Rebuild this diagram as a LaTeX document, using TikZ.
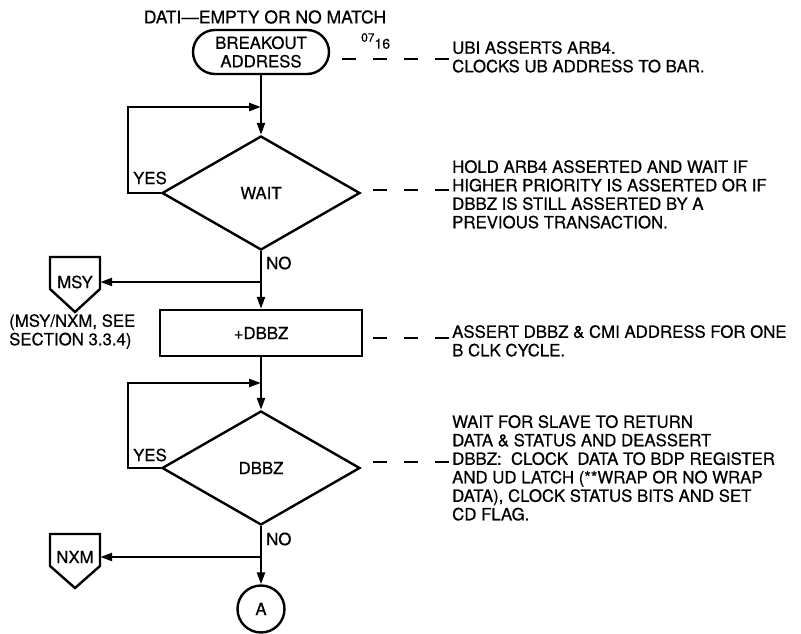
\documentclass[tikz,border=0pt]{standalone}
\usepackage{fontspec}
\setmainfont{TeX Gyre Heros}[FakeBold=0.6]
\usetikzlibrary{shapes.geometric,arrows.meta,calc}
\begin{document}
\begin{tikzpicture}[x=1pt,y=-1pt,
  every node/.style={font=\fontsize{16.8}{18.5}\selectfont, inner sep=0pt},
  ln/.style={line width=2.4pt},
  arr/.style={ln,-{Triangle[length=12pt,width=8pt]}},
  dsh/.style={line width=2.2pt,dash pattern=on 14pt off 17pt},
  term/.style={draw,ln,rounded corners=22pt,minimum width=136pt,minimum height=44pt,align=center},
  dec/.style={draw,ln,diamond,minimum width=198pt,minimum height=114pt},
  proc/.style={draw,ln,rectangle,minimum width=202pt,minimum height=46pt},
  offp/.style={minimum width=50pt,minimum height=20pt},
  conn/.style={draw,ln,circle,minimum size=47pt},
  note/.style={align=left,anchor=north west}
]
\useasboundingbox (0,0) rectangle (801,634);

% main nodes
\node (title) at (265,17) {\fontsize{17.5}{18}\selectfont DATI—EMPTY OR NO MATCH};
\node (brk) [term] at (261,52) {BREAKOUT\\ADDRESS};
\node (hex) [anchor=west] at (361,41) {\fontsize{12}{12}\selectfont 07\raisebox{-7pt}{\fontsize{14}{14}\selectfont 16}};
\node (wait) [dec] at (261,193) {WAIT};
\node (dbbzbox) [proc] at (261,333) {+DBBZ};
\node (dbbz) [dec] at (261,468) {DBBZ};
\node (a) [conn] at (261,609) {A};
\node (msy) [offp] at (75,282) {MSY};
\node (nxm) [offp] at (75,557) {NXM};

% off-page connector outlines
\draw[ln] ($(msy)+(-25,7)$) -- ++(0,-32) -- ++(50,0) -- ++(0,32) -- ($(msy)+(0,30)$) -- cycle;
\draw[ln] ($(nxm)+(-25,9)$) -- ++(0,-32) -- ++(50,0) -- ++(0,32) -- ($(nxm)+(0,31)$) -- cycle;

% labels
\node (yes1) at (150,178) {YES};
\node (no1) [anchor=west] at (266,263) {NO};
\node (yes2) at (150,455) {YES};
\node (no2) [anchor=west] at (266,539) {NO};
\node (ref) [note] at (9,314) {(MSY/NXM, SEE\\SECTION 3.3.4)};

% notes
\node (n1) [note] at (452,41) {UBI ASSERTS ARB4.\\CLOCKS UB ADDRESS TO BAR.};
\node (n2) [note] at (452,160) {HOLD ARB4 ASSERTED AND WAIT IF\\HIGHER PRIORITY IS ASSERTED OR IF\\DBBZ IS STILL ASSERTED BY A\\PREVIOUS TRANSACTION.};
\node (n3) [note] at (452,325) {ASSERT DBBZ \& CMI ADDRESS FOR ONE\\B CLK CYCLE.};
\node (n4) [note] at (452,415) {WAIT FOR SLAVE TO RETURN\\DATA \& STATUS AND DEASSERT\\DBBZ:\ \ CLOCK\ \ DATA TO BDP REGISTER\\AND UD LATCH (**WRAP OR NO WRAP\\DATA), CLOCK STATUS BITS AND SET\\CD FLAG.};

% junctions and dash ends
\coordinate (j1) at (261,107);
\coordinate (j2) at (261,282);
\coordinate (j3) at (261,383);
\coordinate (j4) at (261,557);
\coordinate (s1) at (342,59);  \coordinate (e1) at (449,59);
\coordinate (s2) at (373,190); \coordinate (e2) at (449,190);
\coordinate (s3) at (373,338); \coordinate (e3) at (449,338);
\coordinate (s4) at (373,462); \coordinate (e4) at (449,462);

% flow
\draw[arr] (brk.south) -- (wait.north);
\draw[arr] (wait.west) -- ++(-33,0) |- (j1);
\draw[ln] (wait.south) -- (j2);
\draw[arr] (j2) -- (msy.east);
\draw[arr] (j2) -- (dbbzbox.north);
\draw[arr] (dbbzbox.south) -- (dbbz.north);
\draw[arr] (dbbz.west) -- ++(-33,0) |- (j3);
\draw[ln] (dbbz.south) -- (j4);
\draw[arr] (j4) -- (nxm.east);
\draw[arr] (j4) -- (a.north);

% dashed leaders
\draw[dsh] (s1) -- (e1);
\draw[dsh] (s2) -- (e2);
\draw[dsh] (s3) -- (e3);
\draw[dsh] (s4) -- (e4);
\end{tikzpicture}
\end{document}
